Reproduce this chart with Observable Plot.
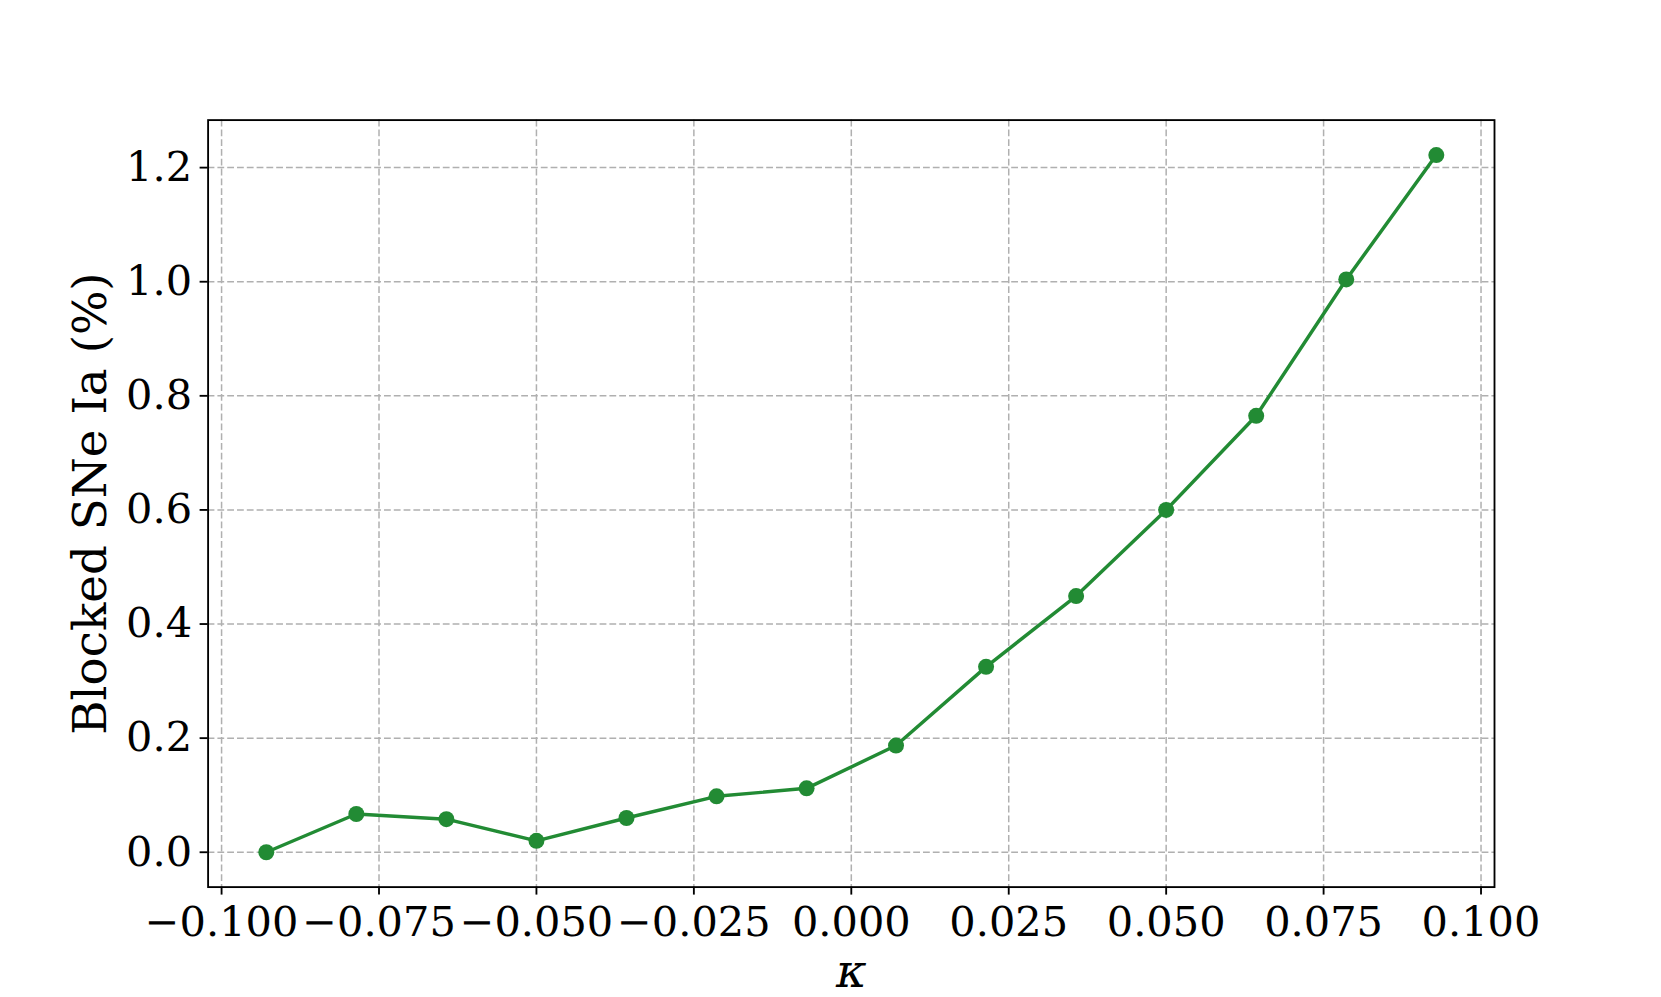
<!DOCTYPE html>
<html>
<head>
<meta charset="utf-8">
<script src="https://cdn.jsdelivr.net/npm/d3@7"></script>
<script src="https://cdn.jsdelivr.net/npm/@observablehq/plot@0.6"></script>
<style>
  html, body { margin: 0; padding: 0; background: white; }
</style>
</head>
<body>
<div id="chart"></div>
<script>
// Data
const kappa = [-0.0929, -0.0786, -0.0643, -0.0500, -0.0357, -0.0214, -0.0071, 0.0071, 0.0214, 0.0357, 0.0500, 0.0643, 0.0786, 0.0929];
const blocked = [0.000, 0.067, 0.058, 0.020, 0.060, 0.098, 0.112, 0.187, 0.325, 0.449, 0.600, 0.765, 1.004, 1.222];
const xTicks = [-0.100, -0.075, -0.050, -0.025, 0.000, 0.025, 0.050, 0.075, 0.100];
const yTicks = [0.0, 0.2, 0.4, 0.6, 0.8, 1.0, 1.2];
const xLabel = "κ";
const yLabel = "Blocked SNe Ia (%)";

const data = kappa.map((k, i) => ({k, v: blocked[i]}));
const green = "#228b34";
const fs = 41.5;
const lfs = 46.8;

const chart = Plot.plot({
  width: 1661,
  height: 997,
  marginLeft: 207.6,
  marginRight: 167,
  marginTop: 119.6,
  marginBottom: 110.4,
  style: {fontFamily: "'DejaVu Serif', serif", fontSize: fs + "px", background: "white", color: "black"},
  x: {domain: [-0.10214, 0.10214]},
  y: {domain: [-0.0611, 1.2833]},
  marks: [
    Plot.gridX(xTicks, {stroke: "#b0b0b0", strokeOpacity: 1, strokeWidth: 1.5, strokeDasharray: "6.8,3"}),
    Plot.gridY(yTicks, {stroke: "#b0b0b0", strokeOpacity: 1, strokeWidth: 1.5, strokeDasharray: "6.8,3"}),
    Plot.line(data, {x: "k", y: "v", stroke: green, strokeWidth: 3.46}),
    Plot.dot(data, {x: "k", y: "v", r: 8, fill: green, stroke: null}),
    Plot.frame({stroke: "black", strokeWidth: 1.85}),
    Plot.axisX(xTicks, {tickFormat: d3.format(".3f"), tickSize: 8, tickPadding: 11, fontSize: fs, strokeWidth: 1.85, label: null}),
    Plot.axisY(yTicks, {tickFormat: d3.format(".1f"), tickSize: 8, tickPadding: 8, fontSize: fs, strokeWidth: 1.85, label: null}),
    Plot.text([xLabel], {frameAnchor: "bottom", lineAnchor: "bottom", dy: 100, fontSize: lfs, fontStyle: "italic"}),
    Plot.text([yLabel], {frameAnchor: "left", textAnchor: "middle", lineAnchor: "bottom", rotate: -90, dx: -102.6, fontSize: lfs})
  ]
});
document.getElementById("chart").appendChild(chart);
</script>
</body>
</html>
